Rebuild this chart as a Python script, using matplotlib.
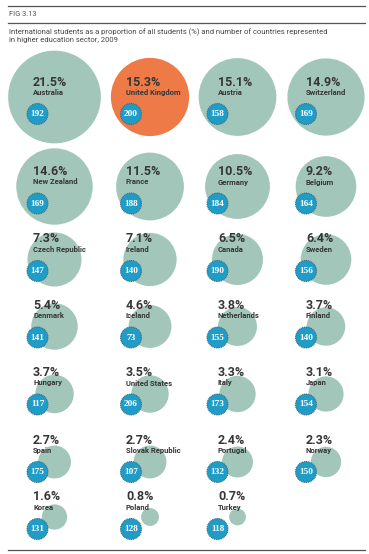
import matplotlib.pyplot as plt
from matplotlib.patches import Circle
import numpy as np

countries = ["Australia", "United Kingdom", "Austria", "Switzerland",
             "New Zealand", "France", "Germany", "Belgium",
             "Czech Republic", "Ireland", "Canada", "Sweden",
             "Denmark", "Iceland", "Netherlands", "Finland",
             "Hungary", "United States", "Italy", "Japan",
             "Spain", "Slovak Republic", "Portugal", "Norway",
             "Korea", "Poland", "Turkey"]
share_pct = [21.5, 15.3, 15.1, 14.9,
             14.6, 11.5, 10.5, 9.2,
             7.3, 7.1, 6.5, 6.4,
             5.4, 4.6, 3.8, 3.7,
             3.7, 3.5, 3.3, 3.1,
             2.7, 2.7, 2.4, 2.3,
             1.6, 0.8, 0.7]
n_countries = [192, 200, 158, 169,
               169, 188, 184, 164,
               147, 140, 190, 156,
               141, 73, 155, 140,
               117, 206, 173, 154,
               175, 107, 132, 150,
               131, 128, 118]
highlight = "United Kingdom"

# layout (pixels, figure is 369 x 554)
W, H = 369, 554
text_x = [33, 126, 218, 306]
badge_x = [37.5, 131, 217.5, 306]
circle_x = [54.5, 150, 237.5, 326]
pct_y = [82, 171.5, 239, 305.5, 372.5, 440, 497]
circle_y = [97, 186.5, 259.5, 326.5, 394, 462, 517]
k = 10.0  # radius scale: area proportional to share

SAGE = "#a3c6bb"
ORANGE = "#ee7b47"
BLUE = "#1f9dc7"
DARK = "#363636"

fig = plt.figure(figsize=(W / 100, H / 100), dpi=100)
ax = fig.add_axes([0, 0, 1, 1])
ax.set_xlim(0, W)
ax.set_ylim(H, 0)
ax.axis("off")

# header
ax.plot([8, 365], [6, 6], color="#555555", lw=0.9)
ax.plot([8, 365], [22.7, 22.7], color="#555555", lw=0.9)
ax.plot([8, 365], [550, 550], color="#555555", lw=0.9)
ax.text(9, 15, "FIG 3.13", fontsize=5.3, family="Roboto", color="#505050", va="center")
ax.text(9, 35.3, "International students as a proportion of all students (%) and number of countries represented\n"
        "in higher education sector, 2009",
        fontsize=5.5, family="Roboto", color="#44474a", va="center", linespacing=1.2)

for i, (name, pct, n) in enumerate(zip(countries, share_pct, n_countries)):
    row, col = divmod(i, 4)
    color = ORANGE if name == highlight else SAGE
    r = k * np.sqrt(pct)
    ax.add_patch(Circle((circle_x[col], circle_y[row]), r, facecolor=color,
                        edgecolor="none", zorder=1))
    ax.text(text_x[col], pct_y[row], f"{pct}%", fontsize=9, family="Roboto",
            fontweight="bold", color=DARK, va="center", ha="left", zorder=3)
    ax.text(text_x[col], pct_y[row] + 10.5, name, fontsize=5.5, family="Roboto",
            fontweight="bold", color=DARK, va="center", ha="left", zorder=3)
    by = pct_y[row] + 32
    ax.add_patch(Circle((badge_x[col], by), 10.5, facecolor=BLUE,
                        edgecolor="#3a6479", lw=0.8, ls=(0, (0.8, 0.8)), zorder=4))
    ax.text(badge_x[col], by, str(n), fontsize=6.7, family="Liberation Serif",
            fontweight="bold", color="white", ha="center", va="center", zorder=5)

fig.savefig("out.png", dpi=100)
